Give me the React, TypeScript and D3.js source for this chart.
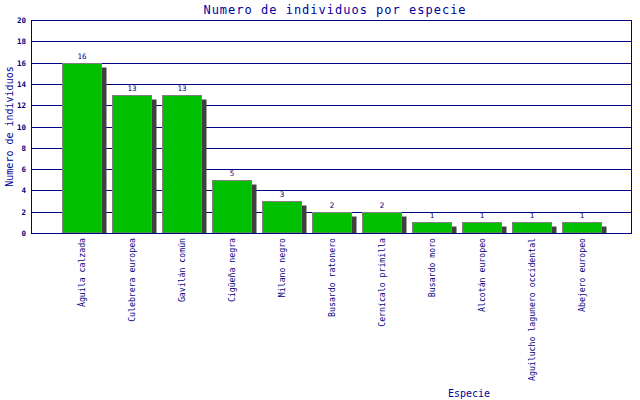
import React from "react";
import * as d3 from "d3";

const categories = [
  "Águila calzada",
  "Culebrera europea",
  "Gavilán común",
  "Cigüeña negra",
  "Milano negro",
  "Busardo ratonero",
  "Cernícalo primilla",
  "Busardo moro",
  "Alcotán europeo",
  "Aguilucho lagunero occidental",
  "Abejero europeo",
];
const values = [16, 13, 13, 5, 3, 2, 2, 1, 1, 1, 1];
const yTicks = [0, 2, 4, 6, 8, 10, 12, 14, 16, 18, 20];

const W = 640;
const H = 400;
const left = 31;
const right = 631;
const top = 20;
const bottom = 233;
const navy = "#000080";
const titleBlue = "#0000a0";
const mono = "'DejaVu Sans Mono', monospace";

export default function App() {
  const x = d3
    .scaleBand<string>()
    .domain(categories)
    .range([left + 25, right - 25])
    .paddingInner(0.22)
    .paddingOuter(0.11);
  const y = d3.scaleLinear().domain([0, 20]).range([bottom, top]);
  const bw = x.bandwidth();

  return (
    <svg
      width={W}
      height={H}
      style={{ position: "absolute", left: 0, top: 0, background: "#fff" }}
    >
      <rect x={0} y={0} width={W} height={H} fill="#fff" />
      {yTicks.map((t) => (
        <g key={t}>
          <line
            x1={left}
            x2={right}
            y1={Math.round(y(t)) + 0.5}
            y2={Math.round(y(t)) + 0.5}
            stroke={navy}
            strokeWidth={1}
          />
          <text
            x={26}
            y={Math.round(y(t)) + 0.5}
            textAnchor="end"
            dominantBaseline="central"
            fontFamily={mono}
            fontSize={7.5}
            fontWeight="bold"
            fill={navy}
          >
            {t}
          </text>
        </g>
      ))}
      {categories.map((c, i) => {
        const bx = Math.round(x(c)!) + 0.5;
        const by = Math.round(y(values[i])) + 0.5;
        const h = bottom - by;
        const cx = bx + bw / 2;
        return (
          <g key={c}>
            <rect
              x={bx + 5}
              y={by + 4}
              width={bw}
              height={Math.max(0, bottom - by - 4)}
              fill="#404040"
            />
            <rect
              x={bx}
              y={by}
              width={bw}
              height={h}
              fill="#00c000"
              stroke="#808080"
              strokeWidth={1}
            />
            <text
              x={cx}
              y={by - 5}
              textAnchor="middle"
              fontFamily={mono}
              fontSize={7.5}
              fill={navy}
            >
              {values[i]}
            </text>
            <text
              transform={`translate(${cx},${238}) rotate(-90)`}
              textAnchor="end"
              dominantBaseline="central"
              fontFamily={mono}
              fontSize={8.2}
              fill={navy}
            >
              {c}
            </text>
          </g>
        );
      })}
      <rect
        x={left + 0.5}
        y={top + 0.5}
        width={right - left}
        height={bottom - top}
        fill="none"
        stroke={navy}
        strokeWidth={1}
      />
      <text
        x={335}
        y={14}
        textAnchor="middle"
        fontFamily={mono}
        fontSize={12}
        letterSpacing={1}
        fill={titleBlue}
      >
        Numero de individuos por especie
      </text>
      <text
        transform={`translate(9,${(top + bottom) / 2}) rotate(-90)`}
        textAnchor="middle"
        dominantBaseline="central"
        fontFamily={mono}
        fontSize={10}
        fill={titleBlue}
      >
        Numero de individuos
      </text>
      <text
        x={469}
        y={397}
        textAnchor="middle"
        fontFamily={mono}
        fontSize={10}
        fill={titleBlue}
      >
        Especie
      </text>
    </svg>
  );
}
